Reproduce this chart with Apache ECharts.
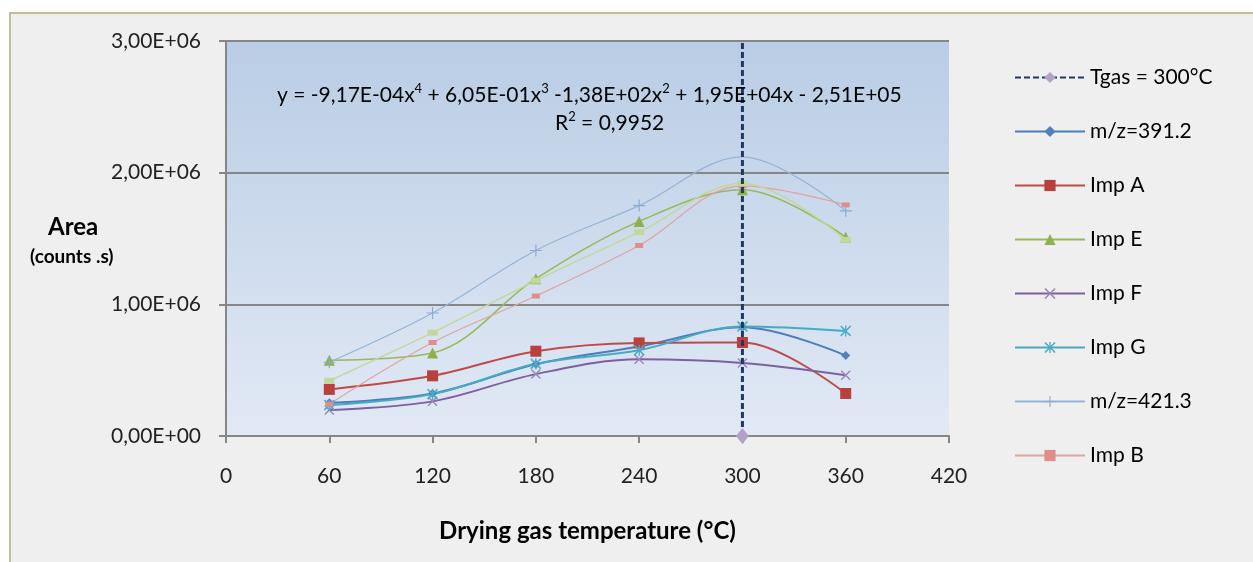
<!DOCTYPE html>
<html>
<head>
<meta charset="utf-8">
<script src="https://cdn.jsdelivr.net/npm/echarts@6/dist/echarts.min.js"></script>
<style>
html,body{margin:0;padding:0;background:#ffffff;}
#chart{width:1253px;height:562px;}
</style>
</head>
<body>
<div id="chart"></div>
<script>
// ---- data ----
const temps = [60, 120, 180, 240, 300, 360];
const mz391 = [252000, 323000, 545000, 680000, 826000, 611000];
const impA  = [354000, 457000, 644000, 707000, 710000, 323000];
const impE  = [576000, 631000, 1195000, 1630000, 1870000, 1510000];
const impF  = [197000, 263000, 470000, 583000, 555000, 462000];
const impG  = [235000, 318000, 548000, 652000, 832000, 798000];
const mz421 = [560000, 934000, 1409000, 1750000, 2120000, 1710000];
const impB  = [242000, 710000, 1063000, 1447000, 1900000, 1755000];
const series9 = [419000, 785000, 1180000, 1548000, 1920000, 1490000];
const tgasX = [300, 300];
const tgasY = [0, 3000000];
const xTicks = [0, 60, 120, 180, 240, 300, 360, 420];
const yTicks = [0, 1000000, 2000000, 3000000];

const FONT = 'Lato';
const chart = echarts.init(document.getElementById('chart'));

function pairs(xs, ys) { return xs.map((x, i) => [x, ys[i]]); }
function sci(v) {
  if (v === 0) return '0,00E+00';
  const e = Math.floor(Math.log10(Math.abs(v)) + 1e-9);
  const m = v / Math.pow(10, e);
  const es = (e < 0 ? '-' : '+') + String(Math.abs(e)).padStart(2, '0');
  return m.toFixed(2).replace('.', ',') + 'E' + es;
}

const XMARK = 'path://M0,1 L1,0 L5,4 L9,0 L10,1 L6,5 L10,9 L9,10 L5,6 L1,10 L0,9 L4,5 Z';
const STAR = 'path://M0,1 L1,0 L5,4 L9,0 L10,1 L6,5 L10,9 L9,10 L5,6 L1,10 L0,9 L4,5 Z M4.4,0 L5.6,0 L5.6,10 L4.4,10 Z';
const PLUS = 'path://M4.5,0 L5.5,0 L5.5,4.5 L10,4.5 L10,5.5 L5.5,5.5 L5.5,10 L4.5,10 L4.5,5.5 L0,5.5 L0,4.5 L4.5,4.5 Z';

function lineSeries(name, ys, lineColor, markColor, width, symbol, size, extra) {
  return Object.assign({
    name: name,
    type: 'line',
    smooth: 0.35,
    data: pairs(temps, ys),
    symbol: symbol,
    symbolSize: size,
    lineStyle: { color: lineColor, width: width },
    itemStyle: { color: markColor },
    emphasis: { disabled: true },
    z: 3
  }, extra || {});
}

const mz421Data = pairs(temps, mz421).map((p, i) => temps[i] === 300 ? { value: p, symbol: 'none' } : p);

const supRich = {
  n: { fontSize: 21, fontFamily: FONT, color: '#000', verticalAlign: 'bottom', lineHeight: 24 },
  s: { fontSize: 13, fontFamily: FONT, color: '#000', verticalAlign: 'top', lineHeight: 20 }
};

const option = {
  animation: false,
  backgroundColor: '#ffffff',
  textStyle: { fontFamily: FONT },
  graphic: [
    { type: 'rect', z: -10, shape: { x: 10, y: 13, width: 1260, height: 560 },
      style: { fill: '#EFEFEF', stroke: '#C4BD97', lineWidth: 2 } },
    { type: 'text', z: 10, left: 48, top: 215,
      style: { text: 'Area', font: 'bold 24px ' + FONT, fill: '#000' } },
    { type: 'text', z: 10, left: 30, top: 247,
      style: { text: '(counts .s)', font: 'bold 19px ' + FONT, fill: '#000' } },
    { type: 'text', z: 10, left: 277, top: 82,
      style: {
        text: '{n|y = -9,17E-04x}{s|4}{n| + 6,05E-01x}{s|3}{n| -1,38E+02x}{s|2}{n| + 1,95E+04x - 2,51E+05}',
        rich: supRich
      } },
    { type: 'text', z: 10, left: 555, top: 110,
      style: {
        text: '{n|R}{s|2}{n| = 0,9952}',
        rich: supRich
      } }
  ],
  grid: {
    left: 226, right: 304, top: 41, bottom: 126,
    show: true, borderWidth: 0,
    backgroundColor: new echarts.graphic.LinearGradient(0, 0, 0, 1, [
      { offset: 0, color: '#B9CDE5' },
      { offset: 1, color: '#E2E9F5' }
    ])
  },
  legend: {
    orient: 'vertical',
    left: 1009, top: 62,
    itemWidth: 70, itemHeight: 14,
    itemGap: 33,
    data: ['Tgas = 300°C', 'm/z=391.2', 'Imp A', 'Imp E', 'Imp F', 'Imp G', 'm/z=421.3', 'Imp B'],
    textStyle: { fontSize: 21, fontFamily: FONT, color: '#000' },
    selectedMode: false
  },
  xAxis: {
    type: 'value', min: 0, max: 420, interval: 60,
    name: 'Drying gas temperature (°C)', nameLocation: 'middle', nameGap: 83,
    nameTextStyle: { fontSize: 24, fontWeight: 'bold', fontFamily: FONT, color: '#000' },
    axisLine: { show: true, onZero: false, lineStyle: { color: '#868686', width: 2 } },
    axisTick: { show: true, inside: false, length: 7, lineStyle: { color: '#868686', width: 2 } },
    axisLabel: { margin: 30, fontSize: 21, fontFamily: FONT, color: '#222',
      formatter: v => xTicks.includes(v) ? String(v) : '' },
    splitLine: { show: false }
  },
  yAxis: {
    type: 'value', min: 0, max: 3000000, interval: 1000000,
    axisLine: { show: true, lineStyle: { color: '#868686', width: 2 } },
    axisTick: { show: true, inside: false, length: 7, lineStyle: { color: '#868686', width: 2 } },
    axisLabel: { margin: 25, fontSize: 21, fontFamily: FONT, color: '#222',
      formatter: v => yTicks.includes(v) ? sci(v) : '' },
    splitLine: { show: true, lineStyle: { color: '#868686', width: 2 } }
  },
  series: [
    {
      name: 'Tgas = 300°C', type: 'line', clip: false,
      data: [{ value: [tgasX[0], tgasY[0]] }, { value: [tgasX[1], tgasY[1]], symbol: 'none' }],
      symbol: 'diamond', symbolSize: [13, 16],
      lineStyle: { color: '#1F3864', width: 3, type: [6, 3] },
      itemStyle: { color: '#B3A2C7' },
      emphasis: { disabled: true },
      z: 5
    },
    lineSeries('m/z=391.2', mz391, '#4A7EBB', '#4F81BD', 2, 'diamond', 9),
    lineSeries('Imp A', impA, '#BE4B48', '#B8403D', 2, 'rect', 11),
    lineSeries('Imp E', impE, '#98B954', '#8FB04E', 1.5, 'triangle', 11),
    lineSeries('Imp F', impF, '#7D60A0', '#9A86BA', 2, XMARK, 10),
    lineSeries('Imp G', impG, '#46AAC5', '#4BACC6', 2, STAR, 11),
    Object.assign(lineSeries('m/z=421.3', mz421, '#95B3D7', '#8EA9D6', 1.2, PLUS, 12), { data: mz421Data }),
    lineSeries('Imp B', impB, '#E0A3A1', '#DE8F8C', 1.2, 'rect', [8, 5]),
    lineSeries('Series9', series9, '#C3D69B', '#C3D69B', 1.5, 'rect', [10, 6])
  ]
};
chart.setOption(option);
</script>
</body>
</html>
